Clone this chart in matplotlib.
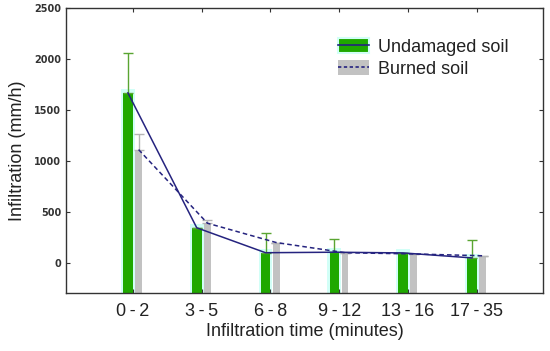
import matplotlib
matplotlib.use("Agg")
import matplotlib.pyplot as plt
from matplotlib.patches import Patch
from matplotlib.lines import Line2D
import numpy as np

# data
categories = ["0\u2009-\u20092", "3\u2009-\u20095", "6\u2009-\u20098",
              "9\u2009-\u200912", "13\u2009-\u200916", "17\u2009-\u200935"]
undamaged = [1670, 345, 100, 105, 98, 49]
undamaged_err = [390, 0, 195, 130, 0, 175]
burned = [1113, 390, 200, 100, 88, 70]
burned_err = [155, 35, 0, 0, 0, 0]

plt.rcParams["font.family"] = ["Liberation Sans", "DejaVu Sans"]

green = "#1fa800"
grey = "#c2c2c2"
navy = "#25237f"
halo = "#d2fff7"
ybot = -300

fig = plt.figure(figsize=(5.5, 3.51), dpi=100)
ax = fig.add_axes([0.12, 0.164, 0.867, 0.812])

x = np.arange(1, len(categories) + 1)
xg = x - 0.07
xb = x + 0.085

# pale cyan glow around the green bars
ax.bar(xg, np.array(undamaged) - ybot + 40, bottom=ybot, width=0.2, color=halo,
       linewidth=0, zorder=1)
ax.bar(xg, np.array(undamaged) - ybot, bottom=ybot, width=0.14, color=green,
       linewidth=0, zorder=2)
ax.bar(xb, np.array(burned) - ybot, bottom=ybot, width=0.1, color=grey,
       linewidth=0, zorder=2)

ax.errorbar(xg, undamaged, yerr=[np.zeros(len(x)), undamaged_err], fmt="none",
            ecolor="#5aa532", elinewidth=1, capsize=3.5, capthick=1, zorder=3)
ax.errorbar(xb, burned, yerr=[np.zeros(len(x)), burned_err], fmt="none",
            ecolor="#b5b5b5", elinewidth=1, capsize=3.5, capthick=1, zorder=3)

ax.plot(xg, undamaged, color=navy, lw=1.1, zorder=4)
ax.plot(xb, burned, color=navy, lw=1.1, ls=(0, (3, 2)), zorder=4)

ax.set_xlim(0.03, 6.96)
ax.set_ylim(ybot, 2500)
ax.set_xticks(x)
ax.set_xticklabels(categories, fontsize=13, color="#222222")
ax.set_yticks([0, 500, 1000, 1500, 2000, 2500])
ax.set_yticklabels(["0", "500", "1000", "1500", "2000", "2500"],
                   fontsize=7, fontweight="bold", family="DejaVu Sans", color="#333333")
ax.tick_params(direction="in", length=3, width=0.8, top=True, right=True, color="#333333")
ax.tick_params(axis="x", pad=7)
for s in ax.spines.values():
    s.set_color("#333333")
    s.set_linewidth(1)

ax.set_xlabel("Infiltration time (minutes)", fontsize=13, color="#222222", labelpad=2)
ax.set_ylabel("Infiltration (mm/h)", fontsize=13, color="#222222", labelpad=6)

h1 = (Patch(facecolor=green, edgecolor=halo, linewidth=1.5),
      Line2D([], [], color=navy, lw=1.2))
h2 = (Patch(facecolor=grey, linewidth=0),
      Line2D([], [], color=navy, lw=1.2, ls=(0, (2, 1.5))))
ax.legend([h1, h2], ["Undamaged soil", "Burned soil"], loc="upper left",
          bbox_to_anchor=(0.555, 0.92), frameon=False, fontsize=13,
          handlelength=1.7, handleheight=0.9, handletextpad=0.5,
          labelspacing=0.2, borderaxespad=0, labelcolor="#222222")

fig.savefig("out.png", dpi=100)
